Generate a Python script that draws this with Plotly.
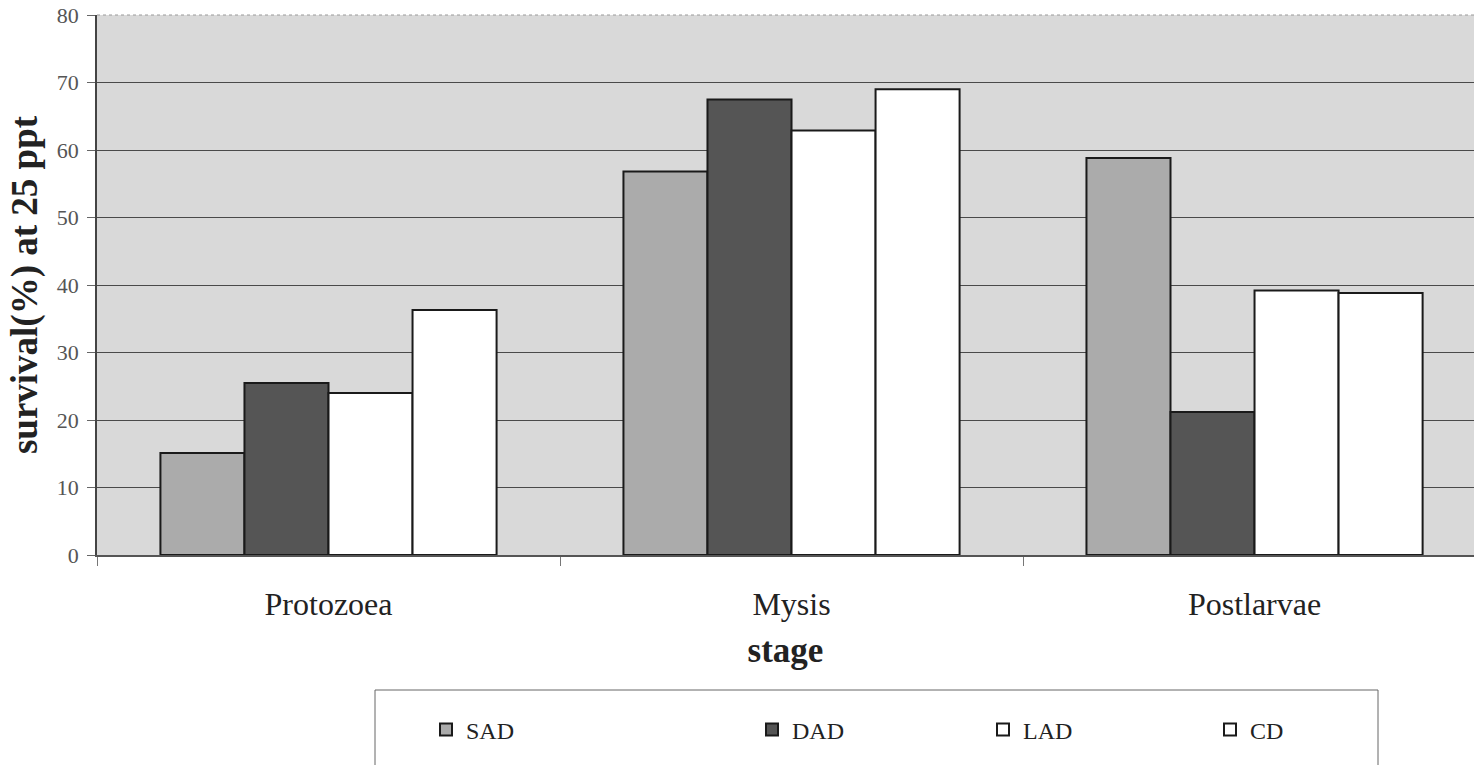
import plotly.graph_objects as go

stages = ["Protozoea", "Mysis", "Postlarvae"]
series_names = ["SAD", "DAD", "LAD", "CD"]
sad = [15.1, 56.8, 58.8]
dad = [25.5, 67.5, 21.2]
lad = [24.0, 62.9, 39.2]
cd = [36.3, 69.0, 38.8]
y_ticks = [0, 10, 20, 30, 40, 50, 60, 70, 80]

values = [sad, dad, lad, cd]
fills = ["#ababab", "#555555", "#ffffff", "#ffffff"]

W, H = 1474, 765
ml, mr, mt, mb = 97, 0, 15, 210
pw, ph = W - ml - mr, H - mt - mb

def px_to_paper_x(px):
    return (px - ml) / pw

def px_to_paper_y(py):
    return (H - mb - py) / ph

# legend symbol centre positions in pixels (layout only)
legend_sym_px = [446, 772, 1003, 1230]
legend_keys = ["legend", "legend2", "legend3", "legend4"]

fig = go.Figure()
for name, vals, col, lk in zip(series_names, values, fills, legend_keys):
    fig.add_trace(go.Bar(
        x=stages, y=vals, name=name, legend=lk,
        marker=dict(color=col, line=dict(color="#1a1a1a", width=2)),
    ))

legend_font = dict(size=24, family="Liberation Serif", color="#222")
legend_layouts = {}
for lk, sx in zip(legend_keys, legend_sym_px):
    legend_layouts[lk] = dict(
        x=px_to_paper_x(sx - 20), y=px_to_paper_y(730),
        xanchor="left", yanchor="middle",
        font=legend_font, bgcolor="rgba(0,0,0,0)", borderwidth=0,
        itemwidth=30,
    )

fig.update_layout(
    width=W, height=H,
    margin=dict(l=ml, r=mr, t=mt, b=mb, autoexpand=False),
    paper_bgcolor="white",
    plot_bgcolor="#d9d9d9",
    barmode="group",
    bargap=0.274,
    bargroupgap=0,
    font=dict(family="Liberation Serif", color="#222"),
    showlegend=True,
    **legend_layouts,
    xaxis=dict(
        range=[-0.5, 2.474],
        showgrid=False,
        ticks="outside", tickson="boundaries", ticklen=9, tickcolor="#777",
        showline=True, linecolor="#555", linewidth=1.5,
        tickfont=dict(size=32, family="Liberation Serif", color="#222"),
        ticklabelstandoff=20,
        title=dict(text="<b>stage</b>", font=dict(size=35, family="Liberation Serif", color="#222"), standoff=16),
    ),
    yaxis=dict(
        range=[0, 80],
        tickvals=y_ticks,
        showgrid=True, gridcolor="#4a4a4a", gridwidth=1,
        ticks="outside", ticklen=8, tickcolor="#666",
        showline=True, linecolor="#444", linewidth=1.5,
        tickfont=dict(size=22, family="Liberation Serif", color="#555"),
        ticklabelstandoff=4,
        zeroline=False,
        title=dict(text="<b>survival(%) at 25 ppt</b>", font=dict(size=37, family="Liberation Serif", color="#222"), standoff=8),
    ),
    shapes=[
        dict(type="line", xref="paper", yref="paper", x0=0, x1=1, y0=1, y1=1,
             line=dict(color="#9a9a9a", width=1, dash="dot")),
        dict(type="rect", xref="paper", yref="paper",
             x0=px_to_paper_x(375), x1=px_to_paper_x(1378),
             y0=px_to_paper_y(690), y1=px_to_paper_y(780),
             line=dict(color="#666", width=1), fillcolor="rgba(0,0,0,0)", layer="above"),
    ],
)

fig.write_html("out.html")
